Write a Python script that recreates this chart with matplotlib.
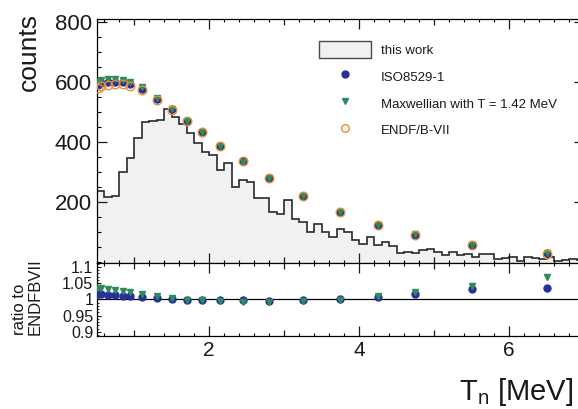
import numpy as np
import matplotlib
matplotlib.use("Agg")
import matplotlib.pyplot as plt
from matplotlib.patches import Patch
from matplotlib.lines import Line2D
from matplotlib.ticker import FixedLocator, MultipleLocator, FuncFormatter

plt.rcParams['font.family'] = ['Liberation Sans', 'DejaVu Sans']
plt.rcParams['mathtext.default'] = 'regular'
plt.rcParams['xtick.direction'] = 'in'
plt.rcParams['ytick.direction'] = 'in'
plt.rcParams['xtick.top'] = True
plt.rcParams['ytick.right'] = True

# measured spectrum, 0.1 MeV bins from 0.5 to 7.0 MeV
edges = np.linspace(0.5, 7.0, 66)
this_work = [238, 218, 220, 300, 346,
             414, 468, 470, 474, 509, 484, 459, 431, 396, 368,
             357, 307, 329, 249, 273, 268, 214, 214, 168, 161,
             208, 143, 134, 101, 128, 101, 85, 110, 100, 73,
             59, 82, 58, 68, 54, 29, 34, 31, 39, 42,
             34, 22, 34, 23, 26, 16, 28, 27, 11, 12,
             18, 4, 18, 14, 10, 18, 4, 6, 9, 6]

# reference spectra at the comparison energies
energy = [0.52, 0.56, 0.65, 0.75, 0.85, 0.95, 1.1, 1.3, 1.5, 1.7,
          1.9, 2.15, 2.45, 2.8, 3.25, 3.75, 4.25, 4.75, 5.5, 6.5]
endf = [580, 586, 591, 593, 592, 587, 572, 541, 508, 471,
        433, 388, 337, 281, 220, 166, 122, 90, 56, 28]
ratio_iso = [1.016, 1.016, 1.014, 1.013, 1.011, 1.011, 1.008, 1.004, 1.001, 0.999,
             0.999, 0.998, 0.997, 0.996, 0.998, 1.000, 1.008, 1.017, 1.031, 1.035]
ratio_maxw = [1.036, 1.035, 1.032, 1.028, 1.026, 1.022, 1.017, 1.011, 1.003, 0.999,
              0.998, 0.995, 0.993, 0.991, 0.994, 0.998, 1.011, 1.024, 1.040, 1.068]

iso = np.array(endf) * np.array(ratio_iso)
maxw = np.array(endf) * np.array(ratio_maxw)

c_iso = '#27309a'
c_maxw = '#2f8a5c'
c_endf = '#e58f3a'
c_fill = '#f0f1f3'
c_text = '#1a1a1a'

W, H = 578, 409
fig = plt.figure(figsize=(W / 100, H / 100), dpi=100)
left, right = 96.7 / W, 584.2 / W
ax = fig.add_axes([left, 1 - 263 / H, right - left, (263 - 19) / H])
ax2 = fig.add_axes([left, 1 - 336 / H, right - left, (336 - 263) / H], sharex=ax)

# upper panel: spectrum and models
ax.stairs(this_work, edges, fill=True, color=c_fill, lw=0)
ax.stairs(this_work, edges, baseline=None, color='#2a2a2a', lw=1.2)
ax.plot(energy, iso, 'o', color=c_iso, ms=5.0, mec=c_iso, zorder=3)
ax.plot(energy, maxw, 'v', color=c_maxw, ms=5.0, mec=c_maxw, zorder=4)
ax.plot(energy, endf, 'o', mfc='none', mec=c_endf, mew=1.0, ms=6.2, zorder=5)
ax.set_ylim(-3.3, 810)
ax.set_xlim(0.5, 7.0)

# lower panel: ratios to ENDF/B-VII
ax2.axhline(1.0, color='black', lw=0.9, zorder=1)
ax2.plot(energy, ratio_iso, 'o', color=c_iso, ms=5.0, zorder=3)
ax2.plot(energy, ratio_maxw, 'v', color=c_maxw, ms=5.0, zorder=4)
ax2.set_ylim(0.887, 1.112)

for a in (ax, ax2):
    for s in a.spines.values():
        s.set_linewidth(0.9)
    a.xaxis.set_major_locator(FixedLocator([1, 2, 3, 4, 5, 6]))
    a.xaxis.set_minor_locator(MultipleLocator(0.2))
    a.tick_params(axis='x', which='major', width=0.9, length=7.2, pad=3.6,
                  labelsize=15, colors=c_text)
    a.tick_params(axis='x', which='minor', width=0.8, length=2.5)

ax.xaxis.set_major_formatter(FuncFormatter(lambda v, p: f'{v:g}' if v % 2 == 0 else ''))
ax.tick_params(axis='x', labelbottom=False)

ax.yaxis.set_major_locator(FixedLocator([200, 400, 600, 800]))
ax.yaxis.set_minor_locator(MultipleLocator(50))
ax.tick_params(axis='y', which='major', width=0.9, length=7.2, pad=3.6,
               labelsize=16, colors=c_text)
ax.tick_params(axis='y', which='minor', width=0.8, length=2.9)

ax2.yaxis.set_major_locator(FixedLocator([0.9, 0.95, 1.0, 1.05, 1.1]))
ax2.yaxis.set_minor_locator(MultipleLocator(0.01))
ax2.yaxis.set_major_formatter(FuncFormatter(lambda v, p: f'{v:g}'))
ax2.tick_params(axis='y', which='major', width=0.8, length=3.0, pad=2.5,
                labelsize=11.5, colors=c_text)
ax2.tick_params(axis='y', which='minor', width=0.6, length=1.4)

# odd MeV ticks are shorter than the labelled even ones
for a in (ax, ax2):
    for t, v in zip(a.xaxis.get_major_ticks(), a.xaxis.get_majorticklocs()):
        size = 7.2 if v % 2 == 0 else 4.3
        t.tick1line.set_markersize(size)
        t.tick2line.set_markersize(size)

fig.text(29 / W, 1 - 13 / H, 'counts', rotation=90, ha='center', va='top',
         fontsize=19, color=c_text)
fig.text(27.5 / W, 1 - 335 / H, 'ratio to\nENDFBVII', rotation=90, ha='center',
         va='bottom', multialignment='left', linespacing=1.0, fontsize=12,
         color=c_text)
fig.text(573 / W, 1 - 400 / H, 'T$_{n}$ [MeV]', ha='right', va='baseline',
         fontsize=21, color=c_text)

handles = [Patch(facecolor=c_fill, edgecolor='#4a4a4a', lw=1.0),
           Line2D([], [], ls='none', marker='o', color=c_iso, ms=5),
           Line2D([], [], ls='none', marker='v', color=c_maxw, ms=5),
           Line2D([], [], ls='none', marker='o', mfc='none', mec=c_endf, mew=1.0, ms=5.5)]
labels = ['this work', 'ISO8529-1', 'Maxwellian with T = 1.42 MeV', 'ENDF/B-VII']
leg = fig.legend(handles, labels, loc='upper left',
                 bbox_to_anchor=(319 / W, 1 - 41 / H), bbox_transform=fig.transFigure,
                 frameon=False, fontsize=9.5, borderpad=0, borderaxespad=0,
                 handlelength=3.94, handleheight=1.59, labelspacing=0.76,
                 handletextpad=0.76)
for t in leg.get_texts():
    t.set_color(c_text)

fig.savefig('out.png', dpi=100)
